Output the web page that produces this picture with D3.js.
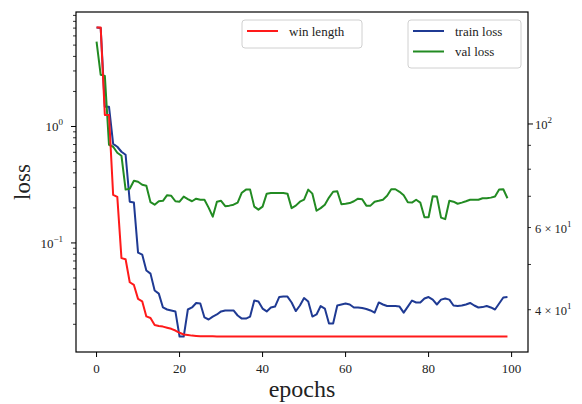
<!DOCTYPE html>
<html>
<head>
  <meta charset="utf-8">
  <!-- Load d3.js -->
  <script src="https://d3js.org/d3.v7.min.js"></script>
  <style>
    body { margin: 0; background: #fff; }
    text { font-family: "Liberation Serif", "DejaVu Serif", serif; fill: #222; }
  </style>
</head>
<body>
  <div id="my_dataviz"></div>
  <script>

    // values, one per epoch (0..99)
    var trainLoss = [7.09, 7.02, 1.48, 1.48, 0.71, 0.67, 0.607, 0.572, 0.226, 0.222,
      0.0826, 0.0794, 0.0579, 0.0545, 0.039, 0.0367, 0.0279, 0.0268, 0.0263, 0.0258,
      0.0157, 0.0157, 0.0268, 0.0279, 0.0305, 0.0302, 0.0229, 0.022, 0.0233, 0.0243,
      0.0258, 0.0263, 0.0263, 0.0263, 0.0238, 0.0224, 0.0224, 0.0233, 0.032, 0.0314,
      0.0273, 0.0258, 0.0279, 0.0284, 0.0343, 0.0346, 0.0346, 0.0308, 0.026, 0.029,
      0.0336, 0.0314, 0.0233, 0.0243, 0.0287, 0.0273, 0.0203, 0.0203, 0.029, 0.0296,
      0.0302, 0.0296, 0.0279, 0.0279, 0.0276, 0.0271, 0.0263, 0.0252, 0.0308, 0.0296,
      0.0287, 0.0287, 0.0287, 0.0284, 0.0252, 0.0284, 0.032, 0.0308, 0.0308, 0.0333,
      0.0343, 0.0326, 0.0296, 0.0326, 0.0333, 0.0326, 0.029, 0.0287, 0.029, 0.0296,
      0.0305, 0.029, 0.0279, 0.0281, 0.0287, 0.0279, 0.0268, 0.0302, 0.034, 0.0343];

    var valLoss = [5.36, 2.78, 2.72, 0.697, 0.67, 0.595, 0.561, 0.287, 0.292, 0.342,
      0.335, 0.316, 0.31, 0.224, 0.213, 0.228, 0.23, 0.257, 0.254, 0.228,
      0.226, 0.25, 0.238, 0.228, 0.24, 0.235, 0.235, 0.201, 0.168, 0.226,
      0.23, 0.207, 0.209, 0.213, 0.222, 0.27, 0.287, 0.287, 0.205, 0.193,
      0.205, 0.265, 0.268, 0.268, 0.268, 0.268, 0.265, 0.199, 0.209, 0.226,
      0.235, 0.287, 0.265, 0.189, 0.199, 0.213, 0.245, 0.275, 0.278, 0.215,
      0.217, 0.22, 0.228, 0.24, 0.237, 0.209, 0.209, 0.226, 0.23, 0.235,
      0.254, 0.289, 0.289, 0.275, 0.257, 0.224, 0.222, 0.235, 0.222, 0.166,
      0.166, 0.252, 0.25, 0.165, 0.16, 0.23, 0.226, 0.217, 0.222, 0.228,
      0.235, 0.235, 0.235, 0.242, 0.242, 0.245, 0.25, 0.287, 0.289, 0.242];

    var winLength = [161, 161, 104.5, 104.5, 70.5, 69.8, 51.6, 51.3, 45.8, 45.2,
      42.2, 41.7, 38.7, 38.4, 37.1, 36.9, 36.8, 36.6, 36.4, 36.1,
      35.7, 35.4, 35.3, 35.2, 35.15, 35.1, 35.08, 35.07, 35.07, 35.06,
      35.06, 35.06, 35.06, 35.06, 35.05, 35.05, 35.05, 35.05, 35.05, 35.05,
      35.05, 35.05, 35.05, 35.05, 35.05, 35.05, 35.05, 35.05, 35.05, 35.05,
      35.05, 35.05, 35.05, 35.05, 35.05, 35.05, 35.05, 35.05, 35.05, 35.05,
      35.04, 35.04, 35.04, 35.04, 35.04, 35.04, 35.04, 35.04, 35.04, 35.04,
      35.04, 35.04, 35.04, 35.04, 35.04, 35.04, 35.04, 35.04, 35.04, 35.04,
      35.04, 35.04, 35.04, 35.04, 35.04, 35.04, 35.04, 35.04, 35.04, 35.04,
      35.04, 35.04, 35.04, 35.04, 35.04, 35.04, 35.04, 35.04, 35.04, 35.04];

    // tick labels
    var xTicks = [0, 20, 40, 60, 80, 100];
    var leftTicks = [{ v: 1, base: "10", exp: "0" }, { v: 0.1, base: "10", exp: "\u22121" }];
    var rightTicks = [{ v: 100, base: "10", exp: "2" }, { v: 60, base: "6 \u00d7 10", exp: "1" }, { v: 40, base: "4 \u00d7 10", exp: "1" }];

    var colors = { train: "#1f3a93", val: "#228b22", win: "#ff1a1a" };

    // plot box in page pixels
    var W = 582, H = 404;
    var box = { left: 76, right: 528, top: 12, bottom: 352 };

    var svg = d3.select("#my_dataviz")
      .append("svg")
      .attr("width", W)
      .attr("height", H);

    // matplotlib style 5% padding (in log space for log axes)
    function logPad(vals) {
      var lo = Math.log10(d3.min(vals)), hi = Math.log10(d3.max(vals));
      var m = 0.05 * (hi - lo);
      return [Math.pow(10, lo - m), Math.pow(10, hi + m)];
    }

    var n = trainLoss.length;
    var x = d3.scaleLinear()
      .domain([-0.05 * (n - 1), (n - 1) * 1.05])
      .range([box.left, box.right]);

    var yL = d3.scaleLog()
      .domain(logPad(trainLoss.concat(valLoss)))
      .range([box.bottom, box.top]);

    var yR = d3.scaleLog()
      .domain(logPad(winLength))
      .range([box.bottom, box.top]);

    // lines
    svg.append("clipPath").attr("id", "clip")
      .append("rect")
      .attr("x", box.left).attr("y", box.top)
      .attr("width", box.right - box.left).attr("height", box.bottom - box.top);

    var lineL = d3.line()
      .x(function (d, i) { return x(i) })
      .y(function (d) { return yL(d) });
    var lineR = d3.line()
      .x(function (d, i) { return x(i) })
      .y(function (d) { return yR(d) });

    var plot = svg.append("g").attr("clip-path", "url(#clip)");
    plot.append("path").attr("d", lineL(trainLoss))
      .attr("stroke", colors.train).attr("stroke-width", 2).attr("fill", "none")
      .attr("stroke-linejoin", "round");
    plot.append("path").attr("d", lineL(valLoss))
      .attr("stroke", colors.val).attr("stroke-width", 2).attr("fill", "none")
      .attr("stroke-linejoin", "round");
    plot.append("path").attr("d", lineR(winLength))
      .attr("stroke", colors.win).attr("stroke-width", 2).attr("fill", "none")
      .attr("stroke-linejoin", "round");

    // frame
    svg.append("rect")
      .attr("x", box.left).attr("y", box.top)
      .attr("width", box.right - box.left).attr("height", box.bottom - box.top)
      .attr("fill", "none").attr("stroke", "#000").attr("stroke-width", 1.2);

    // x axis
    var xAxis = svg.append("g");
    xAxis.selectAll("line").data(xTicks).enter().append("line")
      .attr("x1", function (d) { return x(d) }).attr("x2", function (d) { return x(d) })
      .attr("y1", box.bottom).attr("y2", box.bottom + 5)
      .attr("stroke", "#000").attr("stroke-width", 1);
    xAxis.selectAll("text").data(xTicks).enter().append("text")
      .attr("x", function (d) { return x(d) })
      .attr("y", box.bottom + 21)
      .attr("text-anchor", "middle")
      .style("font-size", "13px")
      .text(function (d) { return d });

    // minor log ticks for one axis
    function minorTicks(scale) {
      var dom = scale.domain(), out = [];
      for (var k = -3; k <= 3; k++) {
        for (var m = 2; m <= 9; m++) {
          var v = m * Math.pow(10, k);
          if (v >= dom[0] && v <= dom[1]) out.push(v);
        }
      }
      return out;
    }

    // left axis
    var leftAxis = svg.append("g");
    leftAxis.selectAll(".minor").data(minorTicks(yL)).enter().append("line")
      .attr("x1", box.left).attr("x2", box.left - 3)
      .attr("y1", function (d) { return yL(d) }).attr("y2", function (d) { return yL(d) })
      .attr("stroke", "#000").attr("stroke-width", 0.8);
    leftAxis.selectAll(".major").data(leftTicks).enter().append("line")
      .attr("x1", box.left).attr("x2", box.left - 5)
      .attr("y1", function (d) { return yL(d.v) }).attr("y2", function (d) { return yL(d.v) })
      .attr("stroke", "#000").attr("stroke-width", 1);
    var lt = leftAxis.selectAll(".lab").data(leftTicks).enter().append("text")
      .attr("x", box.left - 13)
      .attr("y", function (d) { return yL(d.v) + 5 })
      .attr("text-anchor", "end")
      .style("font-size", "13px");
    lt.append("tspan").text(function (d) { return d.base });
    lt.append("tspan").attr("dy", -6).style("font-size", "9px").text(function (d) { return d.exp });

    // right axis
    var rightAxis = svg.append("g");
    rightAxis.selectAll(".minor").data(minorTicks(yR)).enter().append("line")
      .attr("x1", box.right).attr("x2", box.right + 3)
      .attr("y1", function (d) { return yR(d) }).attr("y2", function (d) { return yR(d) })
      .attr("stroke", "#000").attr("stroke-width", 0.8);
    rightAxis.append("line")
      .attr("x1", box.right).attr("x2", box.right + 5)
      .attr("y1", yR(100)).attr("y2", yR(100))
      .attr("stroke", "#000").attr("stroke-width", 1);
    var rt = rightAxis.selectAll(".lab").data(rightTicks).enter().append("text")
      .attr("x", box.right + 7)
      .attr("y", function (d) { return yR(d.v) + 5 })
      .style("font-size", "12.5px");
    rt.append("tspan").text(function (d) { return d.base });
    rt.append("tspan").attr("dy", -6).style("font-size", "9px").text(function (d) { return d.exp });

    // axis labels
    svg.append("text")
      .attr("x", (box.left + box.right) / 2)
      .attr("y", 397)
      .attr("text-anchor", "middle")
      .style("font-size", "24px")
      .text("epochs");
    svg.append("text")
      .attr("transform", "translate(30," + (box.top + box.bottom) / 2 + ") rotate(-90)")
      .attr("text-anchor", "middle")
      .style("font-size", "23px")
      .text("loss");

    // legends
    function legend(x0, y0, w, items) {
      var g = svg.append("g").attr("transform", "translate(" + x0 + "," + y0 + ")");
      g.append("rect")
        .attr("width", w).attr("height", 8 + items.length * 20)
        .attr("rx", 3)
        .attr("fill", "#fff").attr("fill-opacity", 0.8)
        .attr("stroke", "#d0d0d0").attr("stroke-width", 1);
      items.forEach(function (it, i) {
        var yy = 11 + i * 20.5;
        g.append("line")
          .attr("x1", 5).attr("x2", 36).attr("y1", yy).attr("y2", yy)
          .attr("stroke", it.color).attr("stroke-width", 2);
        g.append("text")
          .attr("x", 47).attr("y", yy + 4.5)
          .style("font-size", "13px")
          .text(it.name);
      });
    }
    legend(242, 20, 120, [{ name: "win length", color: colors.win }]);
    legend(408, 20, 113, [{ name: "train loss", color: colors.train }, { name: "val loss", color: colors.val }]);

  </script>
</body>
</html>
